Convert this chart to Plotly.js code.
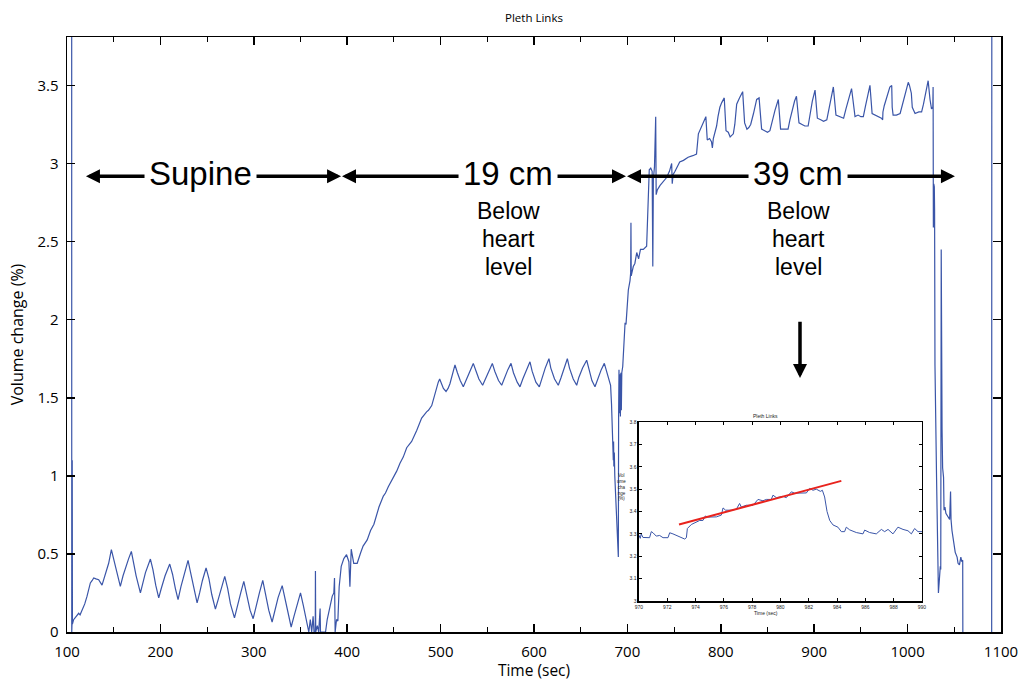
<!DOCTYPE html>
<html><head><meta charset="utf-8">
<script src="https://cdn.plot.ly/plotly-3.0.1.min.js"></script>
<style>html,body{margin:0;padding:0;background:#fff}#chart{width:1028px;height:681px}</style>
</head><body><div id="chart"></div>
<script>
// ---------- main recording (time in s, volume change in %) ----------
const supineTime = [100,105,105.1,105.4,105.6,105.8,107.1,110,112.5,114,116,119,121.4,123,125,127,128.6,131,133.9,137.5,139,141,144.6,147.5,149,152,155,157.1,160,163,166,168.9,171,174,178.6,181,184,189.3,192,195,198.2,201,205,210,213,216,218.9,222,226,229.6,232,236,239.3,242,245,248.9,252,255,258.9,262,265,268.9,272,275,279.3,282,286,289.3,292,296,299.3,302,306,309.6,312,316,319.6,322,326,330.4,333,337,340,343,347,350,353,356,358.9,360.5,362,363.5,364.5,365.8,366,366.3,368,369.5,371,371.4,375,376.8,378.6,381.4,384,385.7,386.4,387.1,388.6,390,391.4,393.6,396.4,399.3,401.8,402.9,404.3,407,410.7,414.3,417,421.4,425,428.6];
const supineVol = [5.0,5.0,0.0,0.058,1.1,0.05,0.079,0.10,0.12,0.11,0.139,0.18,0.228,0.27,0.314,0.33,0.346,0.34,0.335,0.30,0.33,0.367,0.44,0.527,0.49,0.40,0.33,0.292,0.36,0.42,0.47,0.516,0.45,0.36,0.25,0.30,0.38,0.467,0.40,0.30,0.218,0.28,0.36,0.435,0.37,0.28,0.207,0.29,0.38,0.459,0.39,0.27,0.186,0.25,0.33,0.41,0.34,0.24,0.147,0.21,0.28,0.356,0.28,0.18,0.09,0.16,0.25,0.324,0.25,0.14,0.085,0.16,0.25,0.331,0.26,0.14,0.064,0.13,0.22,0.297,0.22,0.10,0.032,0.10,0.19,0.25,0.17,0.07,0.0,0.08,0.0,0.10,0.0,0.0,0.39,0.0,0.04,0.0,0.15,0.0,0.0,0.0,0.08,0.16,0.23,0.25,0.346,0.0,0.08,0.07,0.29,0.42,0.47,0.495,0.45,0.29,0.53,0.44,0.44,0.506,0.55,0.59,0.65,0.69];

const cm19Time = [431.6,434,438.7,441,444,449.4,453,456.5,460,463.7,466,469,474.4,479.7,485,487,490.5,494,497.5,499,501,503,505.8,508,510,513,515.4,518,521,524.3,527,531,535,538,541,545,548,552,555.4,558,562,565.4,568,572,575.4,578,582,585,588,592,595.7,598,602,605.7,608,612,616,618,622,626,629,632,635.7,638,642,645.7,648,652,656.4,659,662,665.3,668,672,675.3,678,680.6,682,683,684,684.3,684.6,684.9,685.2,685.5,686,686.5,687.2,688.5,689.2,689.8,690.3];
const cm19Vol = [0.76,0.80,0.87,0.89,0.93,0.99,1.03,1.08,1.12,1.18,1.20,1.22,1.29,1.37,1.41,1.42,1.45,1.53,1.60,1.62,1.59,1.56,1.54,1.56,1.59,1.66,1.71,1.66,1.61,1.57,1.61,1.67,1.72,1.67,1.62,1.58,1.62,1.68,1.72,1.67,1.61,1.58,1.62,1.68,1.72,1.66,1.60,1.57,1.62,1.68,1.73,1.67,1.60,1.57,1.62,1.69,1.75,1.69,1.62,1.58,1.63,1.69,1.75,1.69,1.62,1.58,1.63,1.69,1.74,1.68,1.61,1.57,1.62,1.68,1.72,1.66,1.60,1.58,1.46,1.27,1.20,1.26,1.10,1.22,1.06,1.15,1.0,0.89,0.70,0.59,0.52,0.48];

const cm39Time = [690.6,691,691.5,692,692.5,693,693.5,694,695,696.4,697.5,698.5,700,701,702.8,703.5,703.8,704.1,706.3,708,710,712,714,717,720.6,721.5,722.4,723.4,725,726.5,727.2,727.8,729,730.3,730.8,732,735,738,742,745,747.4,748,749,751,756,760,765,770,774,776,779.5,782,784,785.5,788,790,791,792,794,795.5,797,799,801,803.7,805.6,808,810,813.4,815,817,820,823.4,825.5,828,830,832,835,838.4,841,843.7,847,850,852.6,855,858,861.6,864,868,872,874,877,879,881,883.7,887,890,893.5,896,898,900.9,903.4,907,910,913.5,916,918,920.5,923.3,927,931.5,934,937,940,943.7,947,950,952.6,955,957,959.7,962,966,970,972,973.3,973.6,975,978,981,983,983.5,984.5,988,992,995,998,1000.7,1002,1004,1005,1008,1012,1015,1017,1019,1022,1024,1025.6,1027,1027.3];
const cm39Vol = [1.38,1.68,1.40,1.65,1.38,1.66,1.42,1.66,1.70,1.93,1.98,1.97,2.13,2.19,2.25,2.30,2.62,2.28,2.34,2.36,2.43,2.39,2.45,2.45,2.47,2.60,2.70,2.96,2.97,2.95,2.34,2.90,2.98,3.30,2.80,2.83,2.86,2.88,2.91,2.95,3.00,2.87,2.93,2.95,3.01,3.02,3.04,3.05,3.06,3.19,3.24,3.27,3.30,3.15,3.16,3.14,3.10,3.16,3.20,3.24,3.30,3.36,3.39,3.42,3.21,3.20,3.17,3.19,3.25,3.38,3.42,3.46,3.26,3.22,3.23,3.25,3.32,3.41,3.42,3.22,3.21,3.20,3.21,3.27,3.34,3.41,3.22,3.22,3.22,3.28,3.36,3.40,3.43,3.26,3.25,3.24,3.24,3.33,3.40,3.47,3.29,3.28,3.27,3.28,3.36,3.42,3.49,3.31,3.30,3.29,3.35,3.42,3.48,3.30,3.31,3.30,3.30,3.37,3.43,3.50,3.32,3.31,3.30,3.29,3.28,3.33,3.37,3.43,3.49,3.50,3.36,3.31,3.31,3.32,3.39,3.46,3.52,3.50,3.45,3.36,3.32,3.33,3.33,3.38,3.44,3.53,3.41,3.35,3.36,3.49];

const endTime = [1027.6,1028,1028.3,1028.6,1028.9,1029.3,1031,1033,1035,1035.5,1036,1036.3,1036.6,1036.9,1037.5,1038.5,1039,1040,1041,1043,1045,1046,1046.5,1047.5,1049,1051,1053,1054,1055.5,1057,1058,1059,1059.3,1090,1090.2,1100];
const endVol = [2.59,2.87,2.68,2.85,2.70,1.71,0.99,0.25,0.42,0.40,2.45,1.40,2.30,1.30,1.05,0.99,0.78,0.80,0.76,0.74,0.72,0.90,0.72,0.65,0.58,0.51,0.48,0.44,0.43,0.48,0.45,0.46,-0.5,-0.5,5.0,5.0];

// ---------- inset (970-990 s zoom) ----------
const insetTime = [970,970.09,970.16,970.28,970.75,970.87,970.99,971.22,971.46,971.70,972.05,972.17,972.40,972.76,973.23,973.35,973.42,973.70,973.93,974.29,974.52,974.69,974.88,975.47,975.82,975.94,976.12,976.53,976.88,977.11,977.23,977.59,978.06,978.41,978.76,979.0,979.35,979.47,979.71,980.18,980.41,980.77,981.0,981.47,981.83,982.06,982.30,982.53,982.82,982.96,983.12,983.29,983.48,983.71,984.06,984.30,984.53,984.65,984.89,985.36,985.83,985.95,986.30,986.77,987.13,987.36,987.60,987.95,988.30,988.66,989.01,989.25,989.48,989.72,990.0];
const insetVol = [3.294,3.28,3.30,3.284,3.283,3.31,3.305,3.29,3.293,3.283,3.283,3.305,3.30,3.29,3.277,3.283,3.324,3.342,3.35,3.36,3.36,3.38,3.375,3.376,3.384,3.416,3.406,3.406,3.41,3.436,3.42,3.428,3.428,3.454,3.448,3.454,3.454,3.473,3.462,3.468,3.462,3.488,3.482,3.483,3.483,3.503,3.495,3.50,3.49,3.495,3.465,3.40,3.36,3.34,3.33,3.31,3.31,3.33,3.318,3.306,3.30,3.317,3.306,3.30,3.32,3.31,3.32,3.30,3.33,3.32,3.314,3.30,3.324,3.31,3.31];
const fitTime = [972.83, 984.3];
const fitVol = [3.342, 3.537];

// ---------- text ----------
const chartTitle = 'Pleth Links';
const xTitle = 'Time (sec)';
const yTitle = 'Volume change (%)';
const positionLabels = ['Supine', '19 cm', '39 cm'];
const subLabels = ['Below', 'heart', 'level'];
const insetYTitle = 'Vol<br>ume<br>cha<br>nge<br>(%)';

const mainTime = supineTime.concat(cm19Time, cm39Time, endTime);
const mainVol = supineVol.concat(cm19Vol, cm39Vol, endVol);

const BLUE = '#3a55a8';
const tickFont = {family: 'Open Sans, sans-serif', size: 15, color: '#000'};
const labFont = {family: 'Liberation Sans, Arial, sans-serif', color: '#000'};

const traces = [
  {x: mainTime, y: mainVol, type: 'scatter', mode: 'lines', line: {color: BLUE, width: 1.2}, hoverinfo: 'skip', xaxis: 'x', yaxis: 'y'},
  {x: insetTime, y: insetVol, type: 'scatter', mode: 'lines', line: {color: BLUE, width: 1}, hoverinfo: 'skip', xaxis: 'x2', yaxis: 'y2'},
  {x: fitTime, y: fitVol, type: 'scatter', mode: 'lines', line: {color: '#e8231d', width: 2}, hoverinfo: 'skip', xaxis: 'x2', yaxis: 'y2'}
];

const arrowY = 2.919;
function arrow(tip, tail, y1, y2) {
  return {x: tip, y: y1, ax: tail, ay: y2, xref: 'x', yref: 'y', axref: 'x', ayref: 'y',
    text: '', showarrow: true, arrowhead: 2, arrowsize: 0.8, arrowwidth: 3.5, arrowcolor: '#000'};
}
const annotations = [
  arrow(120.3, 184.6, arrowY, arrowY), arrow(393.4, 301.3, arrowY, arrowY),
  arrow(394.4, 520.8, arrowY, arrowY), arrow(698.5, 623.6, arrowY, arrowY),
  arrow(699.6, 831.3, arrowY, arrowY), arrow(1050.7, 934.1, arrowY, arrowY),
  arrow(884.8, 884.8, 1.626, 1.997)
];
const bigX = [242.4, 572.2, 882.7];
positionLabels.forEach((s, i) => annotations.push({x: bigX[i], y: 2.935, xref: 'x', yref: 'y', text: s, showarrow: false,
  font: Object.assign({size: 33}, labFont), xanchor: 'center', yanchor: 'middle'}));
const subY = [2.695, 2.516, 2.337];
[572.2, 882.7].forEach(cx => subLabels.forEach((s, j) => annotations.push({x: cx, y: subY[j], xref: 'x', yref: 'y', text: s,
  showarrow: false, font: Object.assign({size: 23}, labFont), xanchor: 'center', yanchor: 'middle'})));
// inset texts
const smallFont = {family: 'Liberation Sans, Arial, sans-serif', size: 5, color: '#222'};
annotations.push({x: 0.7634, y: 0.363, xref: 'paper', yref: 'paper', text: chartTitle, showarrow: false, font: smallFont, yanchor: 'middle'});
annotations.push({x: 0.7634, y: 0.0324, xref: 'paper', yref: 'paper', text: xTitle, showarrow: false, font: smallFont, yanchor: 'middle'});
annotations.push({x: 0.594, y: 0.2437, xref: 'paper', yref: 'paper', text: insetYTitle, showarrow: false, font: Object.assign({}, smallFont, {size: 4.5}), yanchor: 'middle', align: 'center'});

const insetAxis = {showline: true, linecolor: '#000', linewidth: 1.5, mirror: 'allticks', ticks: 'inside', ticklen: 3, tickwidth: 1,
  tickcolor: '#000', showgrid: false, zeroline: false, tickfont: {family: 'Liberation Sans, Arial, sans-serif', size: 5, color: '#222'}};

const layout = {
  width: 1028, height: 681,
  margin: {l: 67, r: 27, t: 37, b: 49},
  paper_bgcolor: '#fff', plot_bgcolor: '#fff', showlegend: false,
  title: {text: chartTitle, font: {family: 'Open Sans, sans-serif', size: 11.5, color: '#000'}, x: 0.5, xref: 'paper', y: 1 - 18/681, yref: 'container', yanchor: 'middle'},
  xaxis: {domain: [0, 1], range: [100, 1100], tick0: 100, dtick: 100, ticks: 'inside', ticklen: 8, tickwidth: 1.5, tickcolor: '#000',
    minor: {dtick: 50, ticks: 'inside', ticklen: 5, tickwidth: 1, tickcolor: '#000'}, ticklabelstandoff: 5,
    showline: true, linecolor: '#000', linewidth: 1.5, mirror: 'allticks', showgrid: false, zeroline: false, tickfont: tickFont,
    title: {text: xTitle, font: {family: 'Open Sans, sans-serif', size: 15.5, color: '#000'}, standoff: 7}},
  yaxis: {domain: [0, 1], range: [0, 3.81], tick0: 0, dtick: 0.5, ticks: 'inside', ticklen: 8, tickwidth: 1.5, tickcolor: '#000',
    showline: true, linecolor: '#000', linewidth: 1.5, mirror: 'allticks', showgrid: false, zeroline: false, tickfont: tickFont,
    ticklabelstandoff: 4,
    title: {text: yTitle, font: {family: 'Open Sans, sans-serif', size: 16, color: '#000'}, standoff: 10}},
  xaxis2: Object.assign({domain: [0.6124, 0.9154], anchor: 'y2', range: [970, 990], tick0: 970, dtick: 2}, insetAxis),
  yaxis2: Object.assign({domain: [0.0521, 0.3529], anchor: 'x2', range: [3, 3.8], tick0: 3, dtick: 0.1}, insetAxis),
  annotations: annotations
};

Plotly.newPlot('chart', traces, layout, {staticPlot: true, displayModeBar: false});
</script></body></html>
